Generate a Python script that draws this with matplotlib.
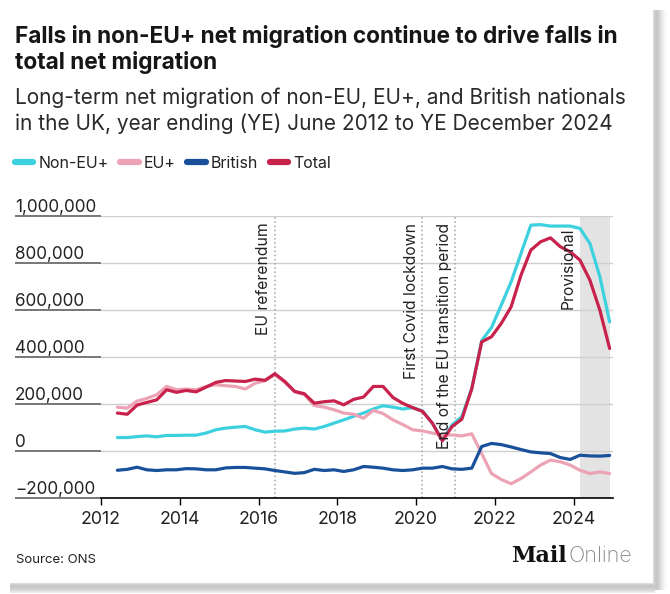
import matplotlib
matplotlib.use('Agg')
import matplotlib.pyplot as plt
import matplotlib.ticker as mticker
from matplotlib.patches import Rectangle
import numpy as np
import pandas as pd

plt.rcParams['font.family'] = ['Inter', 'DejaVu Sans']

W, H = 670, 594

# year ending (YE) quarters, June 2012 to December 2024
quarters = pd.date_range('2012-06-01', '2024-12-01', freq='3MS')

# values in thousands
non_eu = [58, 58, 62,
          65, 61, 67, 67,
          68, 68, 77, 91,
          98, 102, 105, 91,
          81, 85, 86, 94,
          98, 94, 105, 119,
          133, 148, 162, 179,
          193, 187, 179, 185,
          171, 118, 47, 112,
          147, 266, 470, 525,
          620, 719, 840, 960,
          962, 956, 956, 956,
          946, 882, 741, 549]
eu_plus = [187, 183, 213,
           224, 240, 275, 261,
           264, 261, 275, 282,
           278, 275, 264, 289,
           299, 325, 292, 252,
           240, 194, 187, 176,
           162, 157, 140, 173,
           160, 133, 113, 91,
           86, 77, 69, 69,
           65, 74, -10, -95,
           -120, -138, -116, -88,
           -59, -38, -45, -59,
           -81, -95, -88, -95]
british = [-81, -77, -68,
           -79, -82, -79, -79,
           -74, -75, -79, -79,
           -71, -69, -69, -72,
           -75, -82, -88, -94,
           -91, -77, -82, -79,
           -86, -79, -65, -68,
           -72, -79, -82, -79,
           -72, -72, -65, -75,
           -77, -72, 20, 33,
           28, 18, 7, -3,
           -7, -10, -27, -35,
           -17, -20, -21, -18]
total = [162, 157, 196,
         207, 218, 261, 250,
         258, 252, 272, 292,
         300, 298, 296, 306,
         301, 329, 296, 254,
         244, 204, 210, 214,
         197, 220, 230, 275,
         275, 228, 203, 185,
         169, 119, 44, 105,
         136, 265, 464, 486,
         542, 613, 748, 854,
         889, 906, 868, 847,
         811, 726, 599, 436]

series = {'Non-EU+': non_eu, 'EU+': eu_plus, 'British': british, 'Total': total}
colors = {'Non-EU+': '#3dd1df', 'EU+': '#eca3b5', 'British': '#19509a', 'Total': '#c8214c'}

events = [('2016-06-01', 'EU referendum'),
          ('2020-03-01', 'First Covid lockdown'),
          ('2021-01-01', 'End of the EU transition period')]
provisional_start = '2024-03-01'

fig = plt.figure(figsize=(W / 100, H / 100), dpi=100)
fig.patch.set_facecolor('white')

# card shadow on the right and bottom
shade = [0.86, 0.81, 0.79, 0.78, 0.79, 0.81, 0.83, 0.86, 0.89, 0.92, 0.94, 0.96, 0.98, 0.99]
for i, g in enumerate(shade):
    fig.add_artist(Rectangle(((653 + i) / W, 1 - 590 / H), 1 / W, 580 / H,
                             transform=fig.transFigure, color=str(g), lw=0, zorder=-5))
for i, g in enumerate(shade[:10]):
    fig.add_artist(Rectangle((10 / W, 1 - (583 + i + 1) / H), 645 / W, 1 / H,
                             transform=fig.transFigure, color=str(g), lw=0, zorder=-5))

ax = fig.add_axes([101 / W, 1 - 498.3 / H, 512 / W, 282.6 / H])

for name, vals in series.items():
    ax.plot(quarters, np.array(vals) * 1000, color=colors[name], lw=2.3,
            solid_capstyle='round', solid_joinstyle='round', label=name, zorder=3)

ax.axvspan(pd.Timestamp(provisional_start), quarters[-1], color='#e3e3e3', lw=0, zorder=0.2)

ax.set_xlim(pd.Timestamp('2012-01-01'), pd.Timestamp('2025-01-01'))
ax.set_ylim(-200000, 1000000)

for d, label in events:
    ax.axvline(pd.Timestamp(d), color='#b0b0b0', ls=(0, (1, 1.5)), lw=1.2, zorder=1)
    ax.annotate(label, xy=(pd.Timestamp(d), 1000000), xytext=(-2.5, -5),
                textcoords='offset points', rotation=90, ha='right', va='top',
                fontsize=11.3, color='#222222')
ax.annotate('Provisional', xy=(pd.Timestamp(provisional_start), 1000000), xytext=(-3.5, -8.5),
            textcoords='offset points', rotation=90, ha='right', va='top',
            fontsize=11.3, color='#222222')

ax.set_yticks(np.arange(-200000, 1000001, 200000))
ax.yaxis.set_major_formatter(mticker.StrMethodFormatter('{x:,.0f}'))
ax.tick_params(axis='y', length=62, width=1.4, color='#777777', pad=0,
               labelsize=12.3, labelcolor='#222222')
for lab in ax.get_yticklabels():
    lab.set_horizontalalignment('left')
    lab.set_verticalalignment('bottom')
ax.grid(axis='y', color='#cfcfcf', lw=1)
ax.set_axisbelow(True)

ax.xaxis.set_major_locator(matplotlib.dates.YearLocator(2))
ax.xaxis.set_major_formatter(matplotlib.dates.DateFormatter('%Y'))
ax.tick_params(axis='x', length=5, width=1, color='black', labelsize=12.8,
               labelcolor='#222222', pad=4)

for s in ['top', 'right', 'left']:
    ax.spines[s].set_visible(False)
ax.spines['bottom'].set_color('black')
ax.spines['bottom'].set_linewidth(1.2)

leg = ax.legend(loc='center left', bbox_to_anchor=(15 / W, 1 - 163 / H),
                bbox_transform=fig.transFigure, ncol=4, frameon=False,
                handlelength=1.15, handletextpad=0.3, columnspacing=0.75,
                borderpad=0, borderaxespad=0, fontsize=11.5)
for ln in leg.get_lines():
    ln.set_linewidth(4.5)
for t in leg.get_texts():
    t.set_color('#222222')

fig.text(15 / W, 1 - 43 / H, 'Falls in non-EU+ net migration continue to drive falls in',
         fontsize=16.3, fontweight='bold', color='#161616', va='baseline')
fig.text(15 / W, 1 - 69.5 / H, 'total net migration',
         fontsize=16.3, fontweight='bold', color='#161616', va='baseline')
fig.text(15 / W, 1 - 104 / H, 'Long-term net migration of non-EU, EU+, and British nationals',
         fontsize=15, color='#2a2a2a', va='baseline')
fig.text(15 / W, 1 - 130 / H, 'in the UK, year ending (YE) June 2012 to YE December 2024',
         fontsize=15, color='#2a2a2a', va='baseline')

fig.text(16 / W, 1 - 563 / H, 'Source: ONS', fontsize=9.5, color='#222222', va='baseline')
fig.text(567 / W, 1 - 562 / H, 'Mail', fontsize=16, fontweight='heavy',
         family='DejaVu Serif', color='#111111', va='baseline', ha='right')
fig.text(569 / W, 1 - 562 / H, 'Online', fontsize=15.5, fontweight='light',
         color='#8a8a8a', va='baseline', ha='left')

fig.savefig('out.png', dpi=100, facecolor='white')
